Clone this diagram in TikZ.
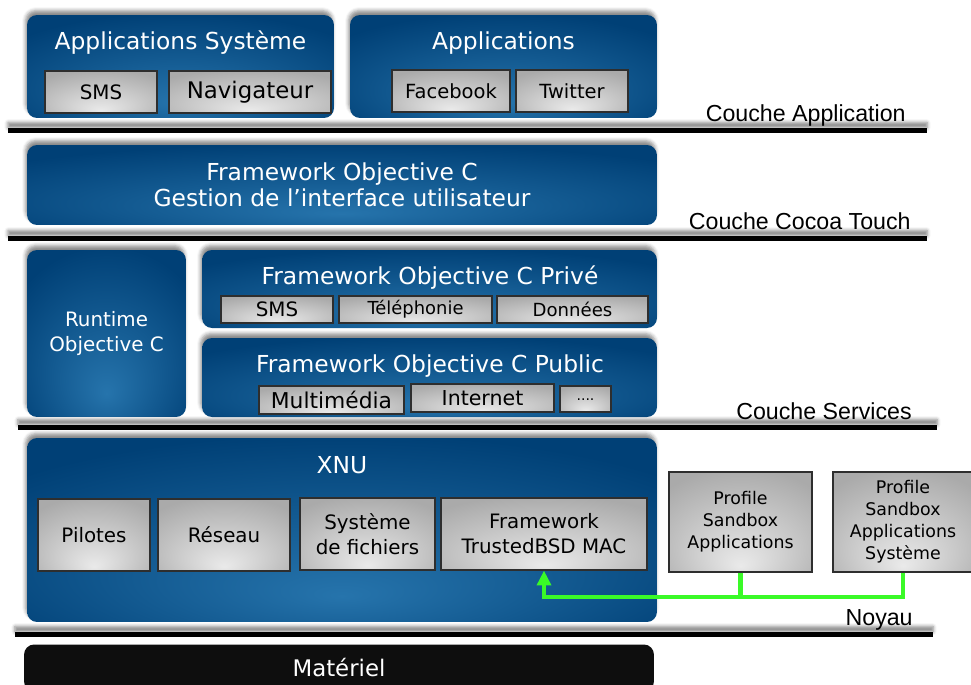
\documentclass[tikz,border=0pt]{standalone}
\usepackage{fontspec}
\setmainfont{Liberation Sans}
\newfontfamily\boxfont{DejaVu Sans}
\usetikzlibrary{positioning,arrows.meta,shadows.blur}
\definecolor{blueedge}{RGB}{0,64,118}
\definecolor{blueglow}{RGB}{38,116,172}
\definecolor{greyedge}{RGB}{170,170,170}
\definecolor{greyglow}{RGB}{234,234,234}
\definecolor{linkgreen}{RGB}{58,250,40}
\definecolor{hardware}{RGB}{14,14,14}
\pgfdeclareradialshading{bluelamp}{\pgfpoint{0bp}{-18bp}}{color(0bp)=(blueglow); color(34bp)=(blueedge); color(60bp)=(blueedge)}
\pgfdeclareradialshading{greylamp}{\pgfpoint{0bp}{-22bp}}{color(0bp)=(greyglow); color(36bp)=(greyedge); color(60bp)=(greyedge)}
\tikzset{dims/.style 2 args={minimum width=#1cm, minimum height=#2cm}}

\begin{document}
\begin{tikzpicture}[
  x=0.02cm, y=-0.02cm,
  bluebox/.style={rounded corners=0.2cm, shading=bluelamp, text=white, align=center, inner sep=0pt,
    font=\boxfont\fontsize{11.3}{14.2}\selectfont,
    blur shadow={shadow xshift=-0.8pt, shadow yshift=2.5pt, shadow blur radius=2pt, shadow opacity=45}},
  greybox/.style={draw=black!82, line width=0.6pt, shading=greylamp, align=center, inner sep=0pt,
    font=\boxfont\fontsize{11.3}{14.2}\selectfont},
  title/.style={text=white, anchor=base, inner sep=0pt, font=\boxfont\fontsize{13.3}{15}\selectfont},
  layerlabel/.style={anchor=base east, inner sep=0pt, font=\fontsize{13.2}{15}\selectfont},
  layerline/.style={fill=black, blur shadow={shadow xshift=0pt, shadow yshift=3pt, shadow blur radius=2pt, shadow opacity=50}},
  greenlink/.style={draw=linkgreen, line width=2.3pt}
]
\useasboundingbox (0,0) rectangle (971,684);

% couche application
\node[bluebox, dims={6.14}{2.06}] (appsys) at (180.5,66.5) {};
\node[title] (appsystitle) at (180.5,49) {Applications Système};
\node[greybox, dims={2.24}{0.84}] (smsapp) at (101,92) {SMS};
\node[greybox, dims={3.24}{0.84}, font=\boxfont\fontsize{13}{15}\selectfont] (navigateur) at (250,92) {Navigateur};
\node[bluebox, dims={6.14}{2.06}] (apps) at (503.5,66.5) {};
\node[title] (appstitle) at (503.5,49) {Applications};
\node[greybox, dims={2.36}{0.84}, font=\boxfont\fontsize{11.1}{14}\selectfont] (facebook) at (451,91) {Facebook};
\node[greybox, dims={2.24}{0.84}, font=\boxfont\fontsize{11.1}{14}\selectfont] (twitter) at (572,91) {Twitter};
\node[layerlabel] (lblapp) at (906,121) {Couche Application};
\fill[layerline] (8,128) rectangle (927,133);

% couche cocoa touch
\node[bluebox, dims={12.6}{1.6}, font=\boxfont\fontsize{13.3}{14.7}\selectfont] (cocoa) at (342,185)
  {Framework Objective C\\Gestion de l’interface utilisateur};
\node[layerlabel] (lblcocoa) at (911,229) {Couche Cocoa Touch};
\fill[layerline] (8,236) rectangle (927,241);

% couche services
\node[bluebox, dims={3.18}{3.34}] (runtime) at (106.5,333.5) {Runtime\\Objective C};
\node[bluebox, dims={9.1}{1.56}] (prive) at (429.5,289) {};
\node[title] (privetitle) at (430,284) {Framework Objective C Privé};
\node[greybox, dims={2.24}{0.54}] (smsprive) at (277,309.5) {SMS};
\node[greybox, dims={3.06}{0.54}, font=\boxfont\fontsize{10.2}{12}\selectfont] (telephonie) at (415.5,309.5) {Téléphonie};
\node[greybox, dims={3.02}{0.54}, font=\boxfont\fontsize{10.3}{12}\selectfont] (donnees) at (572.5,309.5) {Données};
\node[bluebox, dims={9.1}{1.58}] (public) at (429.5,377.5) {};
\node[title] (publictitle) at (430,372) {Framework Objective C Public};
\node[greybox, dims={2.9}{0.56}, font=\boxfont\fontsize{12.4}{14}\selectfont] (multimedia) at (331.5,400) {Multimédia};
\node[greybox, dims={2.86}{0.56}, font=\boxfont\fontsize{11.7}{14}\selectfont] (internet) at (482.5,398) {Internet};
\node[greybox, dims={1.02}{0.52}, font=\boxfont\fontsize{8}{10}\selectfont] (autres) at (585.5,399) {\raisebox{-0.5ex}{....}};
\node[layerlabel] (lblservices) at (912,419) {Couche Services};
\fill[layerline] (18,425) rectangle (937,430);

% noyau
\node[bluebox, dims={12.6}{3.68}] (xnu) at (342,530) {};
\node[title] (xnutitle) at (342,473) {XNU};
\node[greybox, dims={2.24}{1.44}] (pilotes) at (94,535) {Pilotes};
\node[greybox, dims={2.64}{1.44}] (reseau) at (224,535) {Réseau};
\node[greybox, dims={2.7}{1.44}] (fichiers) at (367.5,534) {Système\\de fichiers};
\node[greybox, dims={4.12}{1.44}] (trusted) at (544,534) {Framework\\TrustedBSD MAC};
\node[greybox, dims={2.86}{2.0}, font=\boxfont\fontsize{9.9}{12.5}\selectfont] (profapps) at (740.5,522) {Profile\\Sandbox\\Applications};
\node[greybox, dims={2.8}{2.0}, font=\boxfont\fontsize{9.9}{12.5}\selectfont] (profsys) at (903,522) {Profile\\Sandbox\\Applications\\Système};
\coordinate (linkrow) at (0,597);
\draw[greenlink, -{Triangle[width=7.9pt,length=8.5pt]}] (profsys.south) |- (trusted.south |- linkrow) -- (trusted.south);
\draw[greenlink] (profapps.south) -- (profapps.south |- linkrow);
\node[layerlabel] (lblnoyau) at (913,625) {Noyau};
\fill[layerline] (15,632) rectangle (933,637);

% materiel
\node[rounded corners=0.2cm, fill=hardware, dims={12.6}{0.94}, text=white, font=\boxfont\fontsize{13}{15}\selectfont] (materiel) at (339,668) {Matériel};
\end{tikzpicture}
\end{document}
